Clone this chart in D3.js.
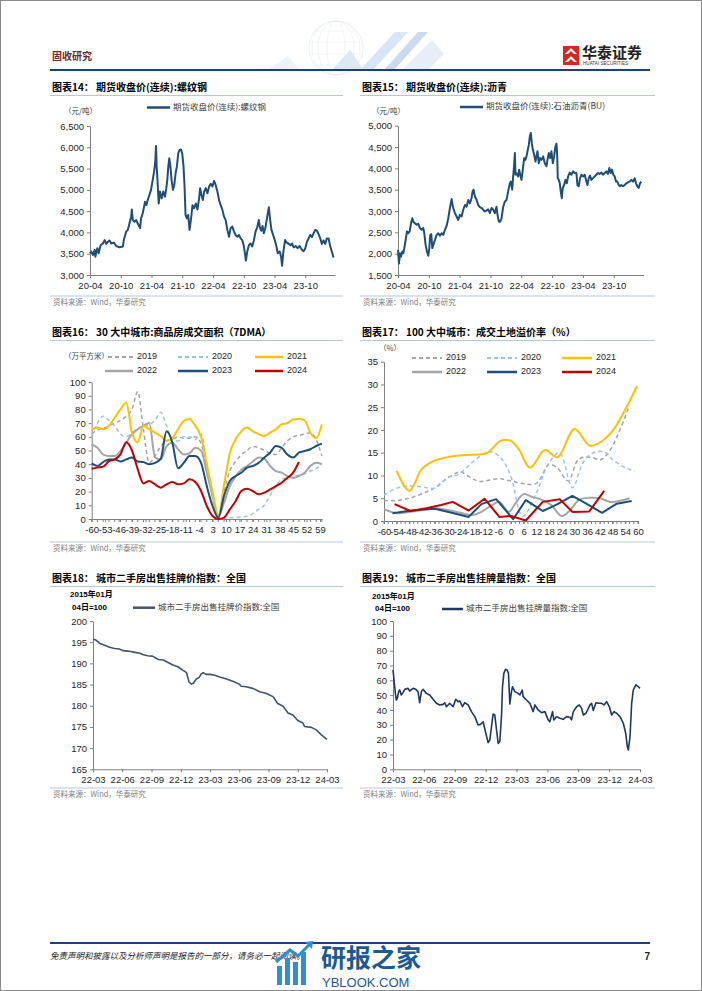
<!DOCTYPE html>
<html><head><meta charset="utf-8">
<script src="https://cdn.jsdelivr.net/npm/d3@7"></script>
<style>body{margin:0;background:#fff}svg{display:block}</style>
</head><body>
<svg id="page" width="702" height="991"></svg>
<script>
// ---------------- DATA ----------------
// Chart 14: rebar futures close, x = months since 2020-04
const rebarTickLabels = ["20-04","20-10","21-04","21-10","22-04","22-10","23-04","23-10"];
const rebar = [[0,3510],[0.26,3550],[0.58,3470],[0.91,3590],[1.04,3430],[1.42,3630],[1.68,3510],[2.07,3700],[2.52,3740],[2.85,3820],[3.17,3730],[3.5,3780],[3.82,3810],[4.14,3740],[4.66,3760],[5.11,3680],[5.76,3650],[6.41,3670],[6.6,3820],[7.06,4020],[7.38,4060],[7.7,4210],[8.03,4370],[8.16,4540],[8.35,4290],[8.67,4250],[9.0,4290],[9.32,4210],[9.77,4100],[9.97,4330],[10.29,4450],[10.49,4570],[10.74,4720],[11.0,4640],[11.26,4760],[11.59,4880],[11.91,5000],[12.23,5230],[12.56,5470],[12.75,5700],[12.88,6030],[13.01,5550],[13.2,5150],[13.4,4680],[13.66,4960],[13.98,4800],[14.3,4960],[14.63,4840],[14.89,5040],[15.08,5230],[15.28,5550],[15.47,5740],[15.66,5580],[15.92,5230],[16.18,5000],[16.44,5110],[16.7,5390],[16.96,5550],[17.22,5860],[17.48,5940],[17.73,5950],[17.99,5860],[18.25,5550],[18.45,5080],[18.64,4410],[18.9,4330],[19.16,4410],[19.42,4060],[19.68,4290],[20.0,4640],[20.32,4570],[20.65,4680],[20.97,4540],[21.29,4800],[21.49,5040],[21.75,4880],[22.01,4760],[22.27,4960],[22.59,5040],[22.91,4920],[23.24,5080],[23.56,5140],[23.88,5080],[24.21,5210],[24.53,5110],[24.85,4960],[25.18,4760],[25.5,4640],[25.83,4530],[26.15,4370],[26.47,4290],[26.8,4060],[27.12,3900],[27.44,4100],[27.77,4140],[28.09,4020],[28.41,3940],[28.74,3900],[29.06,3940],[29.39,3860],[29.71,3820],[30.03,3670],[30.42,3340],[30.68,3550],[31.0,3700],[31.33,3740],[31.65,3670],[31.97,3810],[32.3,4020],[32.62,4120],[32.94,4290],[33.14,4120],[33.4,4040],[33.66,4150],[33.92,3980],[34.24,4120],[34.56,4360],[34.89,4590],[35.15,4290],[35.4,4060],[35.73,3940],[36.05,3820],[36.38,3670],[36.63,3510],[37.02,3550],[37.28,3430],[37.48,3220],[37.73,3550],[38.06,3820],[38.38,3760],[38.71,3740],[39.09,3700],[39.42,3740],[39.74,3650],[40.13,3680],[40.52,3630],[40.91,3680],[41.29,3600],[41.68,3560],[42.01,3630],[42.33,3780],[42.65,3860],[42.98,3940],[43.3,3890],[43.62,3980],[43.95,4060],[44.27,4040],[44.6,3960],[44.92,3860],[45.24,3730],[45.57,3810],[45.89,3730],[46.21,3860],[46.54,3860],[46.86,3680],[47.18,3550],[47.51,3410]];
const rebarYTicks = [3000,3500,4000,4500,5000,5500,6000,6500];

// Chart 15: asphalt futures close
const asphaltTickLabels = ["20-04","20-10","21-04","21-10","22-04","22-10","23-04","23-10"];
const asphalt = [[0,2090],[0.19,1770],[0.39,2010],[0.58,1930],[0.84,2050],[1.04,2010],[1.23,2130],[1.49,2320],[1.75,2520],[2.01,2480],[2.27,2520],[2.53,2710],[2.79,2830],[2.98,2750],[3.31,2710],[3.63,2680],[3.95,2700],[4.28,2600],[4.6,2560],[4.93,2600],[5.12,2480],[5.38,2200],[5.64,2050],[5.9,1950],[6.09,2130],[6.29,2440],[6.48,2460],[6.68,2130],[6.87,2200],[7.19,2320],[7.52,2440],[7.84,2480],[8.17,2420],[8.49,2480],[8.81,2440],[9.14,2560],[9.46,2650],[9.79,2830],[10.11,3070],[10.44,3280],[10.57,3180],[10.76,3070],[11.08,2950],[11.41,2870],[11.73,2790],[12.05,2910],[12.38,2870],[12.7,3030],[13.03,3140],[13.35,3100],[13.68,3260],[14.0,3180],[14.32,3300],[14.52,3460],[14.71,3500],[14.97,3340],[15.3,3260],[15.62,3140],[15.94,3090],[16.27,3070],[16.59,3030],[16.92,2990],[17.24,3010],[17.56,3040],[17.89,2950],[18.21,3070],[18.54,3030],[18.86,2950],[19.18,3100],[19.38,2910],[19.64,2750],[19.9,2750],[20.16,2830],[20.48,3100],[20.8,3220],[21.13,3260],[21.45,3460],[21.78,3650],[21.97,3690],[22.23,3500],[22.42,3810],[22.62,4080],[22.75,4360],[22.88,3850],[23.07,3890],[23.4,3810],[23.59,3970],[23.79,3850],[24.04,3730],[24.3,3970],[24.56,4240],[24.82,4200],[25.02,4280],[25.21,4400],[25.47,4550],[25.67,4750],[25.86,4830],[26.05,4590],[26.25,4440],[26.51,4320],[26.77,4160],[26.96,4280],[27.16,4400],[27.41,4120],[27.67,4240],[27.93,4200],[28.26,4280],[28.58,4120],[28.91,4050],[29.1,4200],[29.36,4360],[29.62,4240],[29.88,4400],[30.14,4120],[30.4,4280],[30.65,4510],[30.85,4580],[30.98,4360],[31.11,3770],[31.3,3730],[31.5,3650],[31.69,3460],[31.89,3300],[32.08,3540],[32.34,3610],[32.6,3730],[32.86,3650],[33.12,3810],[33.44,3900],[33.77,3850],[34.09,3930],[34.41,3890],[34.74,3890],[34.93,3610],[35.19,3580],[35.45,3770],[35.71,3850],[36.03,3810],[36.36,3850],[36.68,3690],[36.88,3610],[37.14,3770],[37.39,3830],[37.65,3730],[37.97,3770],[38.3,3810],[38.62,3850],[38.95,3890],[39.27,3870],[39.6,3900],[39.92,3850],[40.25,3890],[40.57,3930],[40.89,3870],[41.15,4010],[41.41,3890],[41.67,3970],[41.93,3850],[42.19,3810],[42.45,3690],[42.71,3690],[42.97,3610],[43.23,3580],[43.49,3610],[43.81,3580],[44.14,3610],[44.46,3650],[44.78,3670],[45.11,3690],[45.43,3730],[45.76,3690],[46.08,3770],[46.34,3650],[46.6,3580],[46.86,3540],[47.12,3650],[47.38,3690]];
const asphaltYTicks = [1500,2000,2500,3000,3500,4000,4500,5000];

// Chart 16: 30 cities transaction area (7DMA), day offset to Spring Festival, every 3 days
const areaDays = [-60,-57,-54,-51,-48,-45,-42,-39,-36,-33,-30,-27,-24,-21,-18,-15,-12,-9,-6,-3,0,3,6,9,12,15,18,21,24,27,30,33,36,39,42,45,48,51,54,57,60];
const areaTickLabels = [-60,-53,-46,-39,-32,-25,-18,-11,-4,3,10,17,24,31,38,45,52,59];
const area2019 = [62,65,66,68,70,72,75,80,93,65,41,46,53,57,58,60,59,59,60,55,38,18,2,20,35,42,47,50,53,52,50,48,47,52,57,60,61,62,63,58,46];
const area2020 = [60,70,75,72,68,62,60,63,66,68,69,72,78,68,58,57,60,60,58,62,40,15,2,0.5,1,1.2,1.5,2,4,7,10,17,24,29,30,31,32,33,35,37,39];
const area2021 = [65.5,66.7,65.5,68,74,80,85,63,56,68,65.5,63,60.6,57,59,65.5,71.5,73,68,60,40,20,2,25,48,58,64,66.7,64,62,60.6,63,65.5,69,70,72.7,73,72,63,59,69];
const area2022 = [54.5,52,47,46,46,49.6,55.7,62,65.5,68,70,45,43.5,53,55.7,51,47,48,52,50,34,17,2,12,24,31,36,38.7,42,44.8,44,38.7,35,33.8,31.4,30,31.4,33.8,38.7,41,40];
const area2023 = [40.6,38.7,41.6,43.5,43.5,42,43.5,44.8,42,41.5,40,41,44,64,56,37,41,46,46,41,24,9.5,1,17,27.7,31.4,33.8,37.5,38.7,41,44.8,48.4,53.3,52,47,44.8,48.4,49.6,50.9,53.3,55];
const area2024 = [36.7,37.5,38.2,42.3,43.5,47.2,56,50,36.3,26,27.7,25.3,22.9,25.3,27,25.3,26,29,27,20.4,9.5,2.2,0,1,7,13,20.4,22,20.4,18,19.2,21.6,24,26.5,30,33.8,41.6];

// Chart 17: 100 cities land premium rate (%), [day offset, value]
const premTickLabels = [-60,-54,-48,-42,-36,-30,-24,-18,-12,-6,0,6,12,18,24,30,36,42,48,54,60];
const prem2019 = [[-60,4.5],[-54,4.5],[-48,5.0],[-42,6.0],[-36,7.3],[-30,9.4],[-24,10.8],[-20,9.8],[-15,8.7],[-6,9.3],[0,8.8],[6,8.2],[12,8.3],[18,12.4],[22,11.6],[27,8.8],[32,13.6],[38,14.0],[42,13.4],[46,15.0],[51,19.5],[56,25.5]];
const prem2020 = [[-60,5.7],[-54,7.2],[-48,7.7],[-42,7.5],[-36,7.2],[-30,9.5],[-25,10.2],[-18,13.0],[-12,14.9],[-9,15.2],[-4,13.4],[0,9.7],[5.5,1.0],[12,6.2],[18,12.8],[23,15.0],[29,7.3],[34,12.8],[39,15.0],[44,15.2],[48,13.5],[54,11.7],[58.5,11.0]];
const prem2021 = [[-54,11.0],[-48,6.6],[-42,11.5],[-36,13.3],[-29,14.1],[-22,14.5],[-15,14.6],[-11,15.0],[-5,17.6],[0,17.6],[4,15.5],[9,11.7],[16,15.6],[22,14.0],[30,20.2],[37,16.6],[41,17.0],[48,19.8],[54,24.5],[59.5,29.6]];
const prem2022 = [[-60,2.6],[-54,1.7],[-48,2.0],[-42,2.4],[-36,2.8],[-30,2.4],[-24,1.8],[-18,1.3],[-14,2.0],[-9,3.5],[-5.5,4.2],[-1,2.0],[2,3.8],[6,5.9],[10,5.3],[15,4.6],[19,3.5],[24,1.1],[28,2.4],[32,4.6],[37,5.1],[42,5.0],[47,4.2],[52,4.5],[56,5.0]];
const prem2023 = [[-56,1.7],[-47,2.3],[-36,2.7],[-28,1.8],[-20,0.9],[-14,3.7],[-7,4.8],[1,0.4],[7,4.6],[15,2.2],[22,3.7],[29,5.5],[36,3.7],[43,1.8],[50,3.8],[57,4.4]];
const prem2024 = [[-55,3.7],[-47.5,2.2],[-40,2.8],[-33,3.5],[-27.5,4.2],[-20,2.3],[-12.5,4.9],[-5.5,0.9],[0,1.1],[7,0.1],[15,4.2],[23,4.8],[29,2.0],[37,2.1],[44,6.6]];

// Chart 18: second-hand listing price index, x = months since 2022-03
const idxTickLabels = ["22-03","22-06","22-09","22-12","23-03","23-06","23-09","23-12","24-03"];
const priceIdx = [[0,195.7],[0.3,195.5],[0.7,194.7],[1.2,194.3],[1.7,193.8],[2.2,193.5],[2.7,193.4],[3.1,193.0],[3.6,192.9],[4.3,192.6],[4.8,192.4],[5.1,192.1],[5.6,191.8],[6.1,191.7],[6.7,190.9],[7.2,190.8],[7.7,190.2],[8.2,189.6],[8.7,189.2],[9.2,188.4],[9.6,187.8],[9.85,185.6],[10.1,185.1],[10.3,185.3],[10.6,186.3],[10.9,186.7],[11.1,187.5],[11.3,187.8],[11.6,187.4],[12.0,187.4],[12.5,187.2],[13.0,186.8],[13.7,186.3],[14.4,185.7],[15.0,185.1],[15.2,184.6],[15.7,184.5],[16.4,184.1],[17.1,183.3],[17.8,182.9],[18.5,182.1],[18.9,180.6],[19.5,179.9],[20.0,178.3],[20.5,177.8],[21.0,176.5],[21.5,176.0],[21.7,175.1],[22.4,174.9],[22.9,174.3],[23.4,173.2],[23.86,172.3],[24.0,172.1]];
const priceYTicks = [165,170,175,180,185,190,195,200];

// Chart 19: second-hand listing volume index
const volIdx = [[0,67.0],[0.10,60.2],[0.23,51.2],[0.32,46.7],[0.42,47.9],[0.55,52.4],[0.65,53.5],[0.81,50.1],[0.97,51.7],[1.14,53.9],[1.46,54.6],[1.62,52.8],[1.95,54.6],[2.21,53.9],[2.43,52.4],[2.59,44.9],[2.76,52.4],[2.92,53.9],[3.24,51.2],[3.57,50.1],[3.89,47.2],[4.22,44.5],[4.54,43.4],[4.87,43.8],[5.03,44.9],[5.19,42.2],[5.51,44.5],[5.84,42.2],[6.10,47.2],[6.32,45.6],[6.49,46.1],[6.75,42.2],[6.97,44.9],[7.30,43.4],[7.62,38.9],[7.95,35.5],[8.27,29.9],[8.50,30.3],[8.76,32.1],[9.02,24.3],[9.24,18.0],[9.41,19.8],[9.57,28.8],[9.73,37.3],[9.89,36.6],[10.06,26.5],[10.22,17.5],[10.38,18.7],[10.54,35.5],[10.64,55.7],[10.77,64.7],[10.93,67.4],[11.09,67.0],[11.22,64.7],[11.35,44.0],[11.51,52.4],[11.61,55.7],[11.84,52.4],[12.16,51.2],[12.33,50.1],[12.55,53.5],[12.65,49.0],[12.97,46.7],[13.30,44.5],[13.62,38.9],[13.79,43.4],[14.11,40.0],[14.43,38.2],[14.76,38.9],[15.08,33.3],[15.24,32.1],[15.50,38.9],[15.63,33.3],[15.89,35.5],[16.22,34.4],[16.54,33.7],[16.87,35.5],[17.19,35.1],[17.35,33.3],[17.52,38.9],[17.84,42.2],[18.10,43.4],[18.33,41.1],[18.49,36.6],[18.75,37.8],[19.14,43.4],[19.30,44.5],[19.46,39.6],[19.72,44.9],[19.95,44.5],[20.27,44.5],[20.50,43.4],[20.76,45.6],[21.02,42.2],[21.25,36.6],[21.47,38.9],[21.73,37.8],[22.06,35.5],[22.38,31.0],[22.61,24.3],[22.77,15.3],[22.87,13.0],[23.03,22.0],[23.19,44.5],[23.35,53.5],[23.61,56.9],[23.84,55.7],[24.00,54.6]];
const volYTicks = [0,10,20,30,40,50,60,70,80,90,100];

// ---------------- DRAWING ----------------
const svg = d3.select('#page');
const NUM = '"Liberation Sans", Arial, sans-serif';
const CJK = '"Noto Sans CJK SC", "Noto Sans CJK JP", sans-serif';
const AXIS = '#7f7f7f';
const RULE = '#b7c7da';

function txt(x, y, s, o = {}) {
  return svg.append('text').attr('x', x).attr('y', y).text(s)
    .attr('font-family', o.ff || CJK).attr('font-size', o.fs || 9)
    .attr('fill', o.fill || '#000').attr('font-weight', o.fw || 'normal')
    .attr('text-anchor', o.anchor || 'start').attr('dominant-baseline', 'middle')
    .attr('font-style', o.style || 'normal');
}

// page frame
svg.append('rect').attr('x', 0.5).attr('y', 0.5).attr('width', 701).attr('height', 990)
  .attr('fill', '#fff').attr('stroke', '#8c8c8c');

// header decoration (faint globe and stripes)
const deco = svg.append('g').attr('opacity', 0.4);
deco.append('polygon').attr('points', '360,70 395,32 408,32 373,70').attr('fill', '#9fc0e4');
deco.append('polygon').attr('points', '384,70 418,32 428,32 394,70').attr('fill', '#7fa8d8');
deco.append('polygon').attr('points', '402,70 432,40 444,54 428,70').attr('fill', '#c7d7e8');
deco.append('polygon').attr('points', '332,70 350,50 364,70').attr('fill', '#a9c6e6');
deco.append('polygon').attr('points', '268,70 288,56 300,70').attr('fill', '#d9e0e8');
deco.append('circle').attr('cx', 336).attr('cy', 48).attr('r', 27).attr('fill', 'none').attr('stroke', '#b9c2ce').attr('stroke-width', 0.7);
[9, 18, 24].forEach(rx => deco.append('ellipse').attr('cx', 336).attr('cy', 48).attr('rx', rx).attr('ry', 27).attr('fill', 'none').attr('stroke', '#c6ced8').attr('stroke-width', 0.5));
[-17, -6, 6, 17].forEach(dy => { const hw = Math.sqrt(27 * 27 - dy * dy); deco.append('line').attr('x1', 336 - hw).attr('x2', 336 + hw).attr('y1', 48 + dy).attr('y2', 48 + dy).attr('stroke', '#c6ced8').attr('stroke-width', 0.5); });

txt(52, 57, '固收研究', { fs: 10, fw: 'bold', fill: '#6b2a2a' });
svg.append('rect').attr('x', 50).attr('y', 69).attr('width', 600).attr('height', 2).attr('fill', '#1f3f7a');
// logo
const lg = svg.append('g');
lg.append('rect').attr('x', 563).attr('y', 46).attr('width', 16).attr('height', 19).attr('fill', '#d7261e');
lg.append('path').attr('d', 'M565,54 L571,48 L577,54 L574,54 L571,51 L568,54 Z M565,62 L571,56 L577,62 L574,62 L571,59 L568,62 Z').attr('fill', '#fff');
txt(582, 54, '华泰证券', { fs: 15, fw: 'bold', fill: '#222' });
txt(583, 64, 'HUATAI SECURITIES', { fs: 4.6, ff: NUM, fill: '#333' });

// footer
svg.append('rect').attr('x', 50).attr('y', 942).attr('width', 600).attr('height', 2).attr('fill', '#1f3f7a');
txt(50, 957, '免责声明和披露以及分析师声明是报告的一部分，请务必一起阅读。', { fs: 8.5, style: 'italic', fill: '#222' });
txt(650, 957, '7', { fs: 10, ff: NUM, fw: 'bold', anchor: 'end', fill: '#222' });
// watermark
const wm = svg.append('g');
[[277, 966, 5, 19], [285, 958, 5, 27], [293, 962, 5, 23], [301, 952, 5, 33]].forEach(b => wm.append('rect').attr('x', b[0]).attr('y', b[1]).attr('width', b[2]).attr('height', b[3]).attr('fill', '#2f8fd6'));
wm.append('path').attr('d', 'M276,962 L290,950 L298,956 L311,943').attr('fill', 'none').attr('stroke', '#2f8fd6').attr('stroke-width', 3);
wm.append('path').attr('d', 'M305,942 L313,941 L312,949 Z').attr('fill', '#2f8fd6');
txt(321, 960, '研报之家', { fs: 25, fw: 'bold', fill: '#1b5a96' });
txt(322, 984, 'YBLOOK.COM', { fs: 13, ff: NUM, fill: '#1b5a96' });

function panelFrame(x0, x1, yTitle, title, ySrc) {
  txt(x0 + 2, yTitle, title, { fs: 10, fw: 'bold' });
  svg.append('line').attr('x1', x0).attr('x2', x1).attr('y1', yTitle + 7.5).attr('y2', yTitle + 7.5).attr('stroke', RULE).attr('stroke-width', 1);
  svg.append('line').attr('x1', x0).attr('x2', x1).attr('y1', ySrc - 7).attr('y2', ySrc - 7).attr('stroke', RULE).attr('stroke-width', 1);
  txt(x0 + 3, ySrc, '资料来源：Wind，华泰研究', { fs: 7.5, fill: '#7f7f7f' });
}

function styleAxis(g) {
  g.select('.domain').attr('stroke', AXIS);
  g.selectAll('.tick line').attr('stroke', AXIS);
  g.selectAll('.tick text').attr('font-family', NUM).attr('font-size', 9.5).attr('fill', '#262626');
}

function axes(x, y, xTicks, xFmt, yTicks, yFmt, xPos, yPos) {
  const ya = svg.append('g').attr('transform', `translate(${xPos},0)`)
    .call(d3.axisLeft(y).tickValues(yTicks).tickSize(3).tickSizeOuter(0).tickFormat(yFmt));
  styleAxis(ya);
  const xa = svg.append('g').attr('transform', `translate(0,${yPos})`)
    .call(d3.axisBottom(x).tickValues(xTicks).tickSize(3).tickSizeOuter(0).tickFormat(xFmt).tickPadding(4));
  styleAxis(xa);
  return xa;
}

function seriesChart(c) {
  const x = d3.scaleLinear().domain(c.xd).range(c.xr);
  const y = d3.scaleLinear().domain(c.yd).range(c.yr);
  axes(x, y, c.xTicks, (d, i) => c.xLabels[i], c.yTicks, c.yFmt, c.xr[0], c.yr[0]);
  svg.append('path').datum(c.data)
    .attr('d', d3.line().x(d => x(d[0])).y(d => y(d[1])))
    .attr('fill', 'none').attr('stroke', c.color).attr('stroke-width', c.sw || 2)
    .attr('stroke-linejoin', 'round');
  svg.append('line').attr('x1', c.leg[0]).attr('x2', c.leg[1]).attr('y1', c.leg[2]).attr('y2', c.leg[2])
    .attr('stroke', c.color).attr('stroke-width', 2.5);
  txt(c.leg[1] + 3, c.leg[2], c.legText, { fs: 8.5, fill: '#404040' });
}

const comma = d3.format(',');
// Chart 14
panelFrame(50, 343, 88, '图表14：  期货收盘价(连续):螺纹钢', 303);
txt(64, 112, '（元/吨）', { fs: 7.5, fill: '#404040' });
seriesChart({ xd: [0, 47.8], xr: [90, 335], yd: [3000, 6500], yr: [275, 126], data: rebar,
  xTicks: d3.range(0, 48, 6), xLabels: rebarTickLabels, yTicks: rebarYTicks, yFmt: comma,
  color: '#1f4e79', leg: [147, 170, 107.5], legText: '期货收盘价(连续):螺纹钢' });
// Chart 15
panelFrame(360, 655, 88, '图表15：  期货收盘价(连续):沥青', 303);
txt(372, 112, '（元/吨）', { fs: 7.5, fill: '#404040' });
seriesChart({ xd: [0, 47.8], xr: [398, 643.5], yd: [1500, 5000], yr: [275, 125.7], data: asphalt,
  xTicks: d3.range(0, 48, 6), xLabels: asphaltTickLabels, yTicks: asphaltYTicks, yFmt: comma,
  color: '#1f4e79', leg: [460, 483, 107], legText: '期货收盘价(连续):石油沥青(BU)' });

// Chart 18
panelFrame(50, 343, 579, '图表18：  城市二手房出售挂牌价指数：全国', 795);
txt(70, 595, '2015年01月', { fs: 8, fw: 'bold', ff: NUM + ',' + CJK });
txt(72, 607.5, '04日=100', { fs: 8, fw: 'bold', ff: NUM + ',' + CJK });
seriesChart({ xd: [0, 24], xr: [93, 327], yd: [165, 200], yr: [769.3, 621], data: priceIdx,
  xTicks: d3.range(0, 25, 3), xLabels: idxTickLabels, yTicks: priceYTicks, yFmt: d3.format('d'),
  color: '#44546a', sw: 1.6, leg: [133, 155, 607.7], legText: '城市二手房出售挂牌价指数:全国' });
// Chart 19
panelFrame(360, 655, 579, '图表19：  城市二手房出售挂牌量指数：全国', 795);
txt(372, 596.5, '2015年01月', { fs: 8, fw: 'bold', ff: NUM + ',' + CJK });
txt(375, 608.5, '04日=100', { fs: 8, fw: 'bold', ff: NUM + ',' + CJK });
seriesChart({ xd: [0, 24], xr: [393, 640], yd: [0, 100], yr: [769.3, 621], data: volIdx,
  xTicks: d3.range(0, 25, 3), xLabels: idxTickLabels, yTicks: volYTicks, yFmt: d3.format('d'),
  color: '#1f3864', sw: 1.6, leg: [442, 463, 609], legText: '城市二手房出售挂牌量指数:全国' });

// Multi-year charts
const yearStyles = {
  2019: { c: '#a6a6a6', dash: '4,3', w: 1.5 },
  2020: { c: '#9dc3e6', dash: '4,3', w: 1.5 },
  2021: { c: '#ffc000', dash: null, w: 2 },
  2022: { c: '#a5a5a5', dash: null, w: 2 },
  2023: { c: '#1f4e79', dash: null, w: 2 },
  2024: { c: '#c00000', dash: null, w: 2 }
};
function legendItem(x1, x2, y, yr) {
  const s = yearStyles[yr];
  svg.append('line').attr('x1', x1).attr('x2', x2).attr('y1', y).attr('y2', y)
    .attr('stroke', s.c).attr('stroke-width', s.dash ? 1.8 : 2.5).attr('stroke-dasharray', s.dash);
  txt(x2 + 4, y, String(yr), { fs: 9, ff: NUM, fill: '#262626' });
}

// Chart 16
panelFrame(50, 343, 333, '图表16：  30 大中城市:商品房成交面积（7DMA）', 549);
{
  const x = d3.scaleLinear().domain([-60, 60]).range([91.7, 321.9]);
  const y = d3.scaleLinear().domain([0, 100]).range([519, 382]);
  axes(x, y, areaTickLabels, d => d, d3.range(0, 101, 10), d3.format('d'), 91.7, 519);
  svg.append('g').selectAll('line').data(d3.range(-60, 61, 3)).join('line')
    .attr('x1', d => x(d)).attr('x2', d => x(d)).attr('y1', 519).attr('y2', 522).attr('stroke', AXIS);
  const series = { 2019: area2019, 2020: area2020, 2021: area2021, 2022: area2022, 2023: area2023, 2024: area2024 };
  const line = d3.line().x((d, i) => x(areaDays[i])).y(d => y(d)).curve(d3.curveMonotoneX);
  [2019, 2020, 2022, 2021, 2023, 2024].forEach(yr => {
    const s = yearStyles[yr];
    svg.append('path').datum(series[yr]).attr('d', line).attr('fill', 'none')
      .attr('stroke', s.c).attr('stroke-width', s.w).attr('stroke-dasharray', s.dash);
  });
  txt(64, 357, '（万平方米）', { fs: 7.5, fill: '#404040' });
  legendItem(108, 133, 357, 2019); legendItem(178, 208, 357, 2020); legendItem(255, 283, 357, 2021);
  legendItem(105, 133, 371, 2022); legendItem(178, 208, 371, 2023); legendItem(255, 283, 371, 2024);
}

// Chart 17
panelFrame(360, 655, 333, '图表17：  100 大中城市：成交土地溢价率（%）', 549);
{
  const x = d3.scaleLinear().domain([-60, 60]).range([384, 638]);
  const y = d3.scaleLinear().domain([0, 35]).range([521, 361.7]);
  axes(x, y, premTickLabels, d => d, d3.range(0, 36, 5), d3.format('d'), 384, 521);
  svg.append('g').selectAll('line').data(d3.range(-60, 61, 2)).join('line')
    .attr('x1', d => x(d)).attr('x2', d => x(d)).attr('y1', 521).attr('y2', 524).attr('stroke', AXIS);
  const series = { 2019: prem2019, 2020: prem2020, 2021: prem2021, 2022: prem2022, 2023: prem2023, 2024: prem2024 };
  const smooth = d3.line().x(d => x(d[0])).y(d => y(d[1])).curve(d3.curveCatmullRom.alpha(0.5));
  const straight = d3.line().x(d => x(d[0])).y(d => y(d[1]));
  [2019, 2020, 2022, 2021, 2023, 2024].forEach(yr => {
    const s = yearStyles[yr];
    svg.append('path').datum(series[yr]).attr('d', (yr >= 2023) ? straight : smooth).attr('fill', 'none')
      .attr('stroke', s.c).attr('stroke-width', s.w).attr('stroke-dasharray', s.dash).attr('stroke-linejoin', 'round');
  });
  txt(379, 349, '（%）', { fs: 7.5, fill: '#404040' });
  legendItem(412, 442, 358, 2019); legendItem(487, 517, 358, 2020); legendItem(562, 592, 358, 2021);
  legendItem(412, 442, 372, 2022); legendItem(487, 517, 372, 2023); legendItem(562, 592, 372, 2024);
}
</script>
</body></html>
